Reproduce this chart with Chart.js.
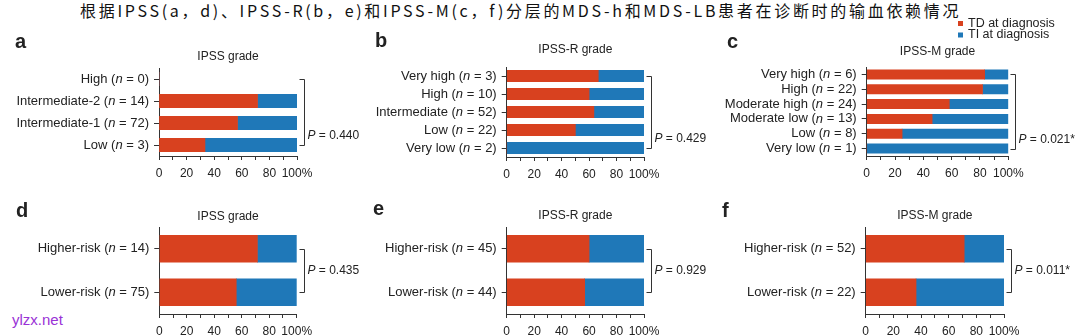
<!DOCTYPE html>
<html>
<head>
<meta charset="utf-8">
<script src="https://cdn.jsdelivr.net/npm/chart.js@4.4.1/dist/chart.umd.min.js"></script>
<style>
  html, body { margin: 0; padding: 0; background: #fff; }
  #page { position: relative; width: 1080px; height: 336px; overflow: hidden; background: #fff; }
  #heading { position: absolute; left: 80px; top: -1px; font-family: "Noto Sans CJK SC", sans-serif; font-size: 16px; line-height: 22px; color: #111; white-space: nowrap; letter-spacing: 2.7px; }
  #mark { position: absolute; left: 12px; top: 311px; font-family: "Liberation Sans", Arial, sans-serif; font-size: 15px; color: #9a32d6; }
  canvas { position: absolute; }
</style>
</head>
<body>
<div id="page">
  <div id="heading">根据IPSS(a，d)、IPSS-R(b，e)和IPSS-M(c，f)分层的MDS-h和MDS-LB患者在诊断时的输血依赖情况</div>
  <div id="mark">ylzx.net</div>
</div>
<script>
// ---- data ----
const seriesNames = ['TD at diagnosis', 'TI at diagnosis'];
const xTickValues = [0, 20, 40, 60, 80, 100];
const xTickLabels = ['0', '20', '40', '60', '80', '100%'];

// a: IPSS grade
const catsA = ['High', 'Intermediate-2', 'Intermediate-1', 'Low'];
const nA = [0, 14, 72, 3];
const tdA = [0, 71.4, 56.9, 33.3];
const tiA = [0, 28.6, 43.1, 66.7];

// b: IPSS-R grade
const catsB = ['Very high', 'High', 'Intermediate', 'Low', 'Very low'];
const nB = [3, 10, 52, 22, 2];
const tdB = [66.7, 60.0, 63.5, 50.0, 0];
const tiB = [33.3, 40.0, 36.5, 50.0, 100];

// c: IPSS-M grade
const catsC = ['Very high', 'High', 'Moderate high', 'Moderate low', 'Low', 'Very low'];
const nC = [6, 22, 24, 13, 8, 1];
const tdC = [83.3, 81.8, 58.3, 46.2, 25.0, 0];
const tiC = [16.7, 18.2, 41.7, 53.8, 75.0, 100];

// d/e/f: two-level risk groups
const catsRisk = ['Higher-risk', 'Lower-risk'];
const nD = [14, 75];
const tdD = [71.4, 56.0];
const tiD = [28.6, 44.0];
const nE = [45, 44];
const tdE = [60.0, 56.8];
const tiE = [40.0, 43.2];
const nF = [52, 22];
const tdF = [71.2, 36.4];
const tiF = [28.8, 63.6];

const panelLetters = ['a', 'b', 'c', 'd', 'e', 'f'];
const panelTitles = ['IPSS grade', 'IPSS-R grade', 'IPSS-M grade', 'IPSS grade', 'IPSS-R grade', 'IPSS-M grade'];
const pValues = ['0.440', '0.429', '0.021*', '0.435', '0.929', '0.011*'];

// ---- styling ----
const RED = '#d8411f';
const BLUE = '#1f78b8';
const INK = '#222';
const AXIS = '#333';
const SANS = '"Liberation Sans", Arial, sans-serif';

// page geometry of each panel: canvas box, plot area, bar thickness, text anchors
const panels = [
  { cats: catsA, n: nA, td: tdA, ti: tiA, canvas: [0, 18, 360, 167],   area: [159, 297, 68, 156],    bar: 13.3, titleY: 57,  letter: [15, 48],  pMode: 'low' },
  { cats: catsB, n: nB, td: tdB, ti: tiB, canvas: [360, 18, 360, 167], area: [506.7, 644, 67, 157],  bar: 11.5, titleY: 50,  letter: [375, 47], pMode: 'low' },
  { cats: catsC, n: nC, td: tdC, ti: tiC, canvas: [720, 0, 360, 185],  area: [866.7, 1008.3, 67, 156], bar: 9.3, titleY: 51.5, letter: [727, 48], pMode: 'low', legend: true },
  { cats: catsRisk, n: nD, td: tdD, ti: tiD, canvas: [0, 185, 360, 151],   area: [159.3, 296.7, 227, 314], bar: 26.7, titleY: 216.5, letter: [16, 217], pMode: 'mid' },
  { cats: catsRisk, n: nE, td: tdE, ti: tiE, canvas: [360, 185, 360, 151], area: [506.7, 644, 227, 314],   bar: 27, titleY: 215.7, letter: [373, 215], pMode: 'mid' },
  { cats: catsRisk, n: nF, td: tdF, ti: tiF, canvas: [720, 185, 360, 151], area: [865.7, 1004, 227, 314],  bar: 27, titleY: 215.7, letter: [722, 217], pMode: 'mid' }
];

// draws panel letter, subtitle, category labels with italic n, significance bracket and legend
const panelDecor = {
  id: 'panelDecor',
  afterDraw(chart, args, o) {
    const ctx = chart.ctx;
    const a = chart.chartArea;
    const ox = o.ox, oy = o.oy;
    const ys = chart.scales.y;
    ctx.save();
    ctx.fillStyle = INK;

    // panel letter
    ctx.font = 'bold 20px ' + SANS;
    ctx.textAlign = 'left';
    ctx.textBaseline = 'alphabetic';
    ctx.fillText(o.letter, o.letterPos[0] - ox, o.letterPos[1] - oy);

    // subtitle centred on the plot area
    ctx.font = '12px ' + SANS;
    ctx.textAlign = 'center';
    ctx.textBaseline = 'middle';
    ctx.fillText(o.title, (a.left + a.right) / 2, o.titleY - oy);

    // category labels: "Name (n = k)" with italic n
    const fN = '13px ' + SANS, fI = 'italic 13px ' + SANS;
    ctx.textAlign = 'left';
    const labels = chart.data.labels;
    labels.forEach((name, i) => {
      const y = ys.getPixelForValue(i);
      const p1 = name + ' (', p2 = 'n', p3 = ' = ' + o.counts[i] + ')';
      ctx.font = fN; const w1 = ctx.measureText(p1).width, w3 = ctx.measureText(p3).width;
      ctx.font = fI; const w2 = ctx.measureText(p2).width;
      let x = a.left - 10 - (w1 + w2 + w3);
      ctx.font = fN; ctx.fillText(p1, x, y); x += w1;
      ctx.font = fI; ctx.fillText(p2, x, y); x += w2;
      ctx.font = fN; ctx.fillText(p3, x, y);
    });

    // bracket spanning first to last category
    const yTop = ys.getPixelForValue(0);
    const yBot = ys.getPixelForValue(labels.length - 1);
    const bx = Math.round(a.right + 7) + 0.5;
    ctx.strokeStyle = AXIS;
    ctx.lineWidth = 1;
    ctx.beginPath();
    ctx.moveTo(bx - 5, Math.round(yTop) + 0.5);
    ctx.lineTo(bx, Math.round(yTop) + 0.5);
    ctx.lineTo(bx, Math.round(yBot) + 0.5);
    ctx.lineTo(bx - 5, Math.round(yBot) + 0.5);
    ctx.stroke();

    // P value
    const py = o.pMode === 'mid' ? (yTop + yBot) / 2 : yBot - 9;
    let px = bx + 3;
    ctx.textBaseline = 'middle';
    ctx.font = 'italic 12px ' + SANS;
    ctx.fillText('P', px, py);
    px += ctx.measureText('P').width;
    ctx.font = '12px ' + SANS;
    ctx.fillText(' = ' + o.p, px, py);

    // legend
    if (o.legend) {
      const items = chart.data.datasets;
      ctx.font = '12.5px ' + SANS;
      items.forEach((ds, i) => {
        const ly = [23.5, 35][i] - oy;
        ctx.fillStyle = ds.backgroundColor;
        ctx.fillRect(958 - ox, ly - 2.5, 5, 5);
        ctx.fillStyle = INK;
        ctx.textAlign = 'left';
        ctx.fillText(ds.label, 968 - ox, ly);
      });
    }
    ctx.restore();
  }
};

const page = document.getElementById('page');
panels.forEach((p, k) => {
  const [cx, cy, cw, ch] = p.canvas;
  const [l, r, t, b] = p.area;
  const cv = document.createElement('canvas');
  cv.width = cw; cv.height = ch;
  cv.style.left = cx + 'px'; cv.style.top = cy + 'px';
  cv.style.width = cw + 'px'; cv.style.height = ch + 'px';
  page.appendChild(cv);

  new Chart(cv, {
    type: 'bar',
    data: {
      labels: p.cats,
      datasets: [
        { label: seriesNames[0], data: p.td, backgroundColor: RED, barThickness: p.bar, borderWidth: 0 },
        { label: seriesNames[1], data: p.ti, backgroundColor: BLUE, barThickness: p.bar, borderWidth: 0 }
      ]
    },
    options: {
      indexAxis: 'y',
      responsive: false,
      animation: false,
      devicePixelRatio: 1,
      layout: { padding: { left: 0, top: t - cy, right: cx + cw - r, bottom: 0 } },
      plugins: {
        legend: { display: false },
        tooltip: { enabled: false },
        panelDecor: {
          ox: cx, oy: cy,
          letter: panelLetters[k], letterPos: p.letter,
          title: panelTitles[k], titleY: p.titleY,
          counts: p.n, p: pValues[k], pMode: p.pMode, legend: !!p.legend
        }
      },
      scales: {
        x: {
          stacked: true,
          min: 0, max: 100,
          afterFit: (s) => { s.height = cy + ch - b; },
          border: { display: true, color: AXIS, width: 1 },
          grid: { drawOnChartArea: false, drawTicks: true, tickLength: 4, tickColor: AXIS },
          ticks: {
            stepSize: 10, autoSkip: false, maxRotation: 0, padding: 6,
            color: INK, font: { family: SANS, size: 12 },
            callback: (v) => { const i = xTickValues.indexOf(v); return i >= 0 ? xTickLabels[i] : ''; }
          }
        },
        y: {
          stacked: true,
          afterFit: (s) => { s.width = l - cx; },
          border: { display: true, color: AXIS, width: 1 },
          grid: { offset: false, drawOnChartArea: false, drawTicks: true, tickLength: 5, tickColor: AXIS },
          ticks: { autoSkip: false, color: 'rgba(0,0,0,0)', font: { family: SANS, size: 6 } }
        }
      }
    },
    plugins: [panelDecor]
  });
});
</script>
</body>
</html>
